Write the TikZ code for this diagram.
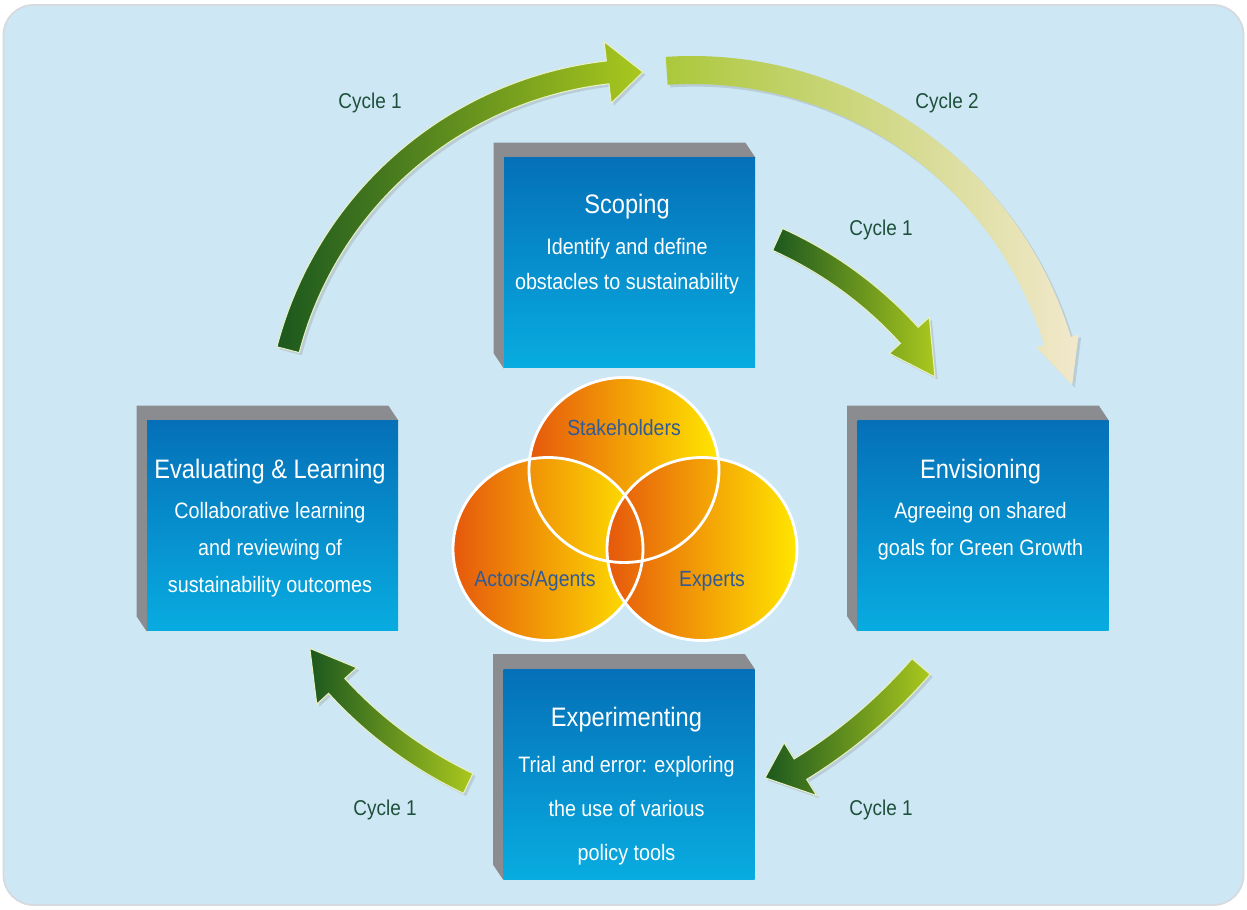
\documentclass[tikz,border=0pt]{standalone}
\usepackage{fontspec}
\setmainfont{Liberation Sans}[FakeStretch=0.885]
\usepackage{tikz}
\usetikzlibrary{calc, positioning, shadows, backgrounds}
\definecolor{bgBlue}{RGB}{205,232,244}
\definecolor{bgEdge}{RGB}{214,218,222}
\definecolor{boxTop}{RGB}{5,112,184}
\definecolor{boxBottom}{RGB}{8,172,224}
\definecolor{sideGray}{RGB}{138,140,143}
\definecolor{vennOrange}{RGB}{230,88,12}
\definecolor{vennMid}{RGB}{248,170,0}
\definecolor{vennYellow}{RGB}{255,230,0}
\definecolor{vennText}{RGB}{50,90,150}
\definecolor{cycleText}{RGB}{30,80,60}
\definecolor{arrowDark}{RGB}{28,88,30}
\definecolor{arrowLight}{RGB}{170,200,30}
\definecolor{arrowMid}{RGB}{172,200,60}
\definecolor{arrowPale}{RGB}{242,232,204}
\definecolor{arrowEdge}{RGB}{232,240,196}

\newcommand{\stagefont}[1]{\fontsize{12.7}{#1}\selectfont}
\newcommand{\stagetitle}[1]{{\fontsize{15.2}{18}\selectfont #1}}
% curved cycle arrow: centre, radius, tail angle, head angle, tip angle, tip radius, half shaft, half head, colours
\newcommand{\cyclearrow}[9]{%
  \begin{scope}[shift={#1}]
    \path[arrowbody, #9] (#3:#2+#7) arc[start angle=#3, end angle=#4, radius=#2+#7]
      -- (#4:#2+#8) -- (#5:#6) -- (#4:#2-#8) -- (#4:#2-#7)
      arc[start angle=#4, end angle=#3, radius=#2-#7] -- cycle;
  \end{scope}}

\begin{document}
\begin{tikzpicture}[scale=1.0,
    stagebox/.style={minimum width=5.02cm, minimum height=4.2cm, inner sep=0pt, top color=boxTop, bottom color=boxBottom},
    stagetext/.style={text=white, align=center, inner sep=0pt, anchor=north},
    vennset/.style={left color=vennOrange, middle color=vennMid, right color=vennYellow},
    venntext/.style={text=vennText, font=\fontsize{12.5}{15}\selectfont},
    cyclelabel/.style={text=cycleText, font=\fontsize{12.2}{15}\selectfont},
    arrowbody/.style={draw=arrowEdge, line width=0.6pt, drop shadow={opacity=0.25, shadow xshift=1.5pt, shadow yshift=-1.5pt}}]
    \useasboundingbox (0,0) rectangle (24.94,18.18);

    % Cycle arrows
    \cyclearrow{(13.0,9.3)}{7.48}{165.4}{96.5}{91.1}{7.44}{0.23}{0.62}{left color=arrowDark, right color=arrowLight}
    \cyclearrow{(13.84,9.14)}{7.64}{93.8}{16.9}{10}{7.72}{0.28}{0.44}{left color=arrowMid, right color=arrowPale, draw=none}
    \cyclearrow{(12.26,6.1)}{8.0}{65.7}{42.2}{35.2}{7.88}{0.24}{0.54}{left color=arrowDark, right color=arrowLight}
    \cyclearrow{(10.58,11.62)}{10.36}{-40.8}{-58.4}{-62.3}{10.16}{0.24}{0.62}{left color=arrowDark, right color=arrowLight}
    \cyclearrow{(13.04,10.22)}{8.54}{244.5}{222.4}{216.2}{8.48}{0.22}{0.54}{left color=arrowDark, right color=arrowLight}

    \node[cyclelabel] (cycleA) at (7.4,16.12) {Cycle 1};
    \node[cyclelabel] (cycleB) at (18.94,16.12) {Cycle 2};
    \node[cyclelabel] (cycleC) at (17.62,13.58) {Cycle 1};
    \node[cyclelabel] (cycleD) at (17.62,1.98) {Cycle 1};
    \node[cyclelabel] (cycleE) at (7.7,1.98) {Cycle 1};

    % Stages
    \node[stagebox] (scoping) at (12.59,12.92) {};
    \node[stagebox] (envisioning) at (19.66,7.66) {};
    \node[stagebox] (experimenting) at (12.58,2.69) {};
    \node[stagebox] (evaluating) at (5.45,7.66) {};

    \node[stagetext, font=\stagefont{19.9}] (scopingtext) at ($(scoping.north)+(-0.05,-0.72)$)
        {\stagetitle{Scoping}\\[3.4pt] Identify and define\\ obstacles to sustainability};
    \node[stagetext, font=\stagefont{20.8}] (envisioningtext) at ($(envisioning.north)+(-0.05,-0.77)$)
        {\stagetitle{Envisioning}\\[2pt] Agreeing on shared\\ goals for Green Growth};
    \node[stagetext, font=\stagefont{25}] (experimentingtext) at ($(experimenting.north)+(-0.05,-0.75)$)
        {\stagetitle{Experimenting}\\[1.2pt] Trial and error: exploring\\ the use of various\\ policy tools};
    \node[stagetext, font=\stagefont{20.8}] (evaluatingtext) at ($(evaluating.north)+(-0.05,-0.77)$)
        {\stagetitle{Evaluating \& Learning}\\[2pt] Collaborative learning\\ and reviewing of\\ sustainability outcomes};

    % Venn of actors
    \shade[vennset] (12.48,8.78) ellipse [x radius=1.9, y radius=1.85];
    \shade[vennset] (10.96,7.2) ellipse [x radius=1.9, y radius=1.83];
    \shade[vennset] (14.04,7.2) ellipse [x radius=1.9, y radius=1.83];
    \draw[white, line width=1.6pt] (12.48,8.78) ellipse [x radius=1.9, y radius=1.85];
    \draw[white, line width=1.6pt] (10.96,7.2) ellipse [x radius=1.9, y radius=1.83];
    \draw[white, line width=1.6pt] (14.04,7.2) ellipse [x radius=1.9, y radius=1.83];

    \node[venntext] (stakeholders) at (12.48,9.62) {Stakeholders};
    \node[venntext] (actors) at (10.7,6.56) {Actors/Agents};
    \node[venntext] (experts) at (14.24,6.56) {Experts};

    \begin{scope}[on background layer]
        \fill[white] (0,0) rectangle (24.94,18.18);
        \filldraw[fill=bgBlue, draw=bgEdge, line width=1pt, rounded corners=0.6cm] (0.07,0.08) rectangle (24.87,18.08);
        \foreach \n in {scoping, envisioning, experimenting, evaluating}
            \fill[sideGray] ($(\n.north west)+(-0.2,0.3)$) -- ($(\n.north east)+(-0.2,0.3)$) -- (\n.north east)
                -- (\n.south west) -- ($(\n.south west)+(-0.2,0.3)$) -- cycle;
    \end{scope}
\end{tikzpicture}
\end{document}
